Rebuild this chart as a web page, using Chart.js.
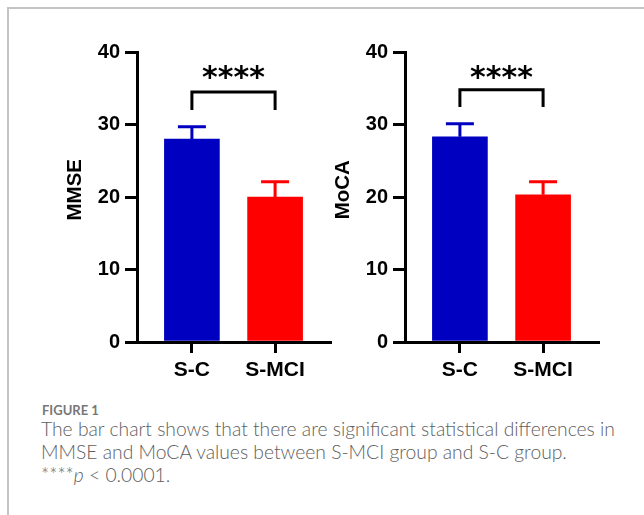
<!DOCTYPE html>
<html>
<head>
<meta charset="utf-8">
<script src="https://cdn.jsdelivr.net/npm/chart.js@4.4.1/dist/chart.umd.min.js"></script>
<style>
  html, body { margin: 0; padding: 0; background: #fff; }
  #page { position: relative; width: 644px; height: 515px; overflow: hidden; }
  #frame { position: absolute; left: 7px; top: 7px; width: 700px; height: 600px;
           border-left: 2px solid #c4c4c4; border-top: 2px solid #c4c4c4; }
  .box { position: absolute; top: 30px; width: 300px; height: 360px; }
  #box1 { left: 40px; }
  #box2 { left: 308px; }
  #figlabel { position: absolute; left: 42px; top: 402px; font-family: Lato, "Open Sans", sans-serif;
              font-weight: 700; font-size: 13px; color: #777; }
  #caption { position: absolute; left: 41px; top: 417px; width: 600px; font-family: Lato, "Open Sans", sans-serif;
             font-weight: 300; font-size: 19.3px; line-height: 23px; color: #606060; }
</style>
</head>
<body>
<div id="page">
  <div id="frame"></div>
  <div class="box" id="box1"><canvas id="chartMMSE"></canvas></div>
  <div class="box" id="box2"><canvas id="chartMoCA"></canvas></div>
  <div id="figlabel">FIGURE 1</div>
  <div id="caption">The bar chart shows that there are significant statistical differences in<br>MMSE and MoCA values between S-MCI group and S-C group.<br>****<i>p</i> &lt; 0.0001.</div>
</div>
<script>
// datos
const categories = ['S-C', 'S-MCI'];
const mmseMean = [28.0, 20.0];
const mmseSD = [1.7, 2.1];
const mocaMean = [28.3, 20.3];
const mocaSD = [1.8, 1.8];
const yTicks = [0, 10, 20, 30, 40];
const barColors = ['#0000c0', '#ff0000'];
const sigLabel = '****';

// barras de error (solo hacia arriba), corchete de significancia y título del eje Y
const sigPlugin = {
  id: 'sigBars',
  afterDatasetsDraw(chart, args, opts) {
    const ctx = chart.ctx;
    const x = chart.scales.x, y = chart.scales.y;
    const meta = chart.getDatasetMeta(0);
    ctx.save();
    ctx.lineWidth = 3;
    ctx.lineCap = 'butt';
    meta.data.forEach((bar, i) => {
      const top = y.getPixelForValue(opts.mean[i] + opts.sd[i]);
      ctx.strokeStyle = barColors[i];
      ctx.beginPath();
      ctx.moveTo(bar.x, bar.y);
      ctx.lineTo(bar.x, top);
      ctx.moveTo(bar.x - 14, top);
      ctx.lineTo(bar.x + 14, top);
      ctx.stroke();
    });
    // corchete
    const x0 = x.getPixelForValue(0), x1 = x.getPixelForValue(1);
    const yb = y.getPixelForValue(opts.bracketY), yd = y.getPixelForValue(opts.bracketDrop);
    ctx.strokeStyle = '#000';
    ctx.lineJoin = 'miter';
    ctx.beginPath();
    ctx.moveTo(x0, yd);
    ctx.lineTo(x0, yb);
    ctx.lineTo(x1, yb);
    ctx.lineTo(x1, yd);
    ctx.stroke();
    ctx.fillStyle = '#000';
    ctx.font = 'bold 30px "DejaVu Sans"';
    ctx.textAlign = 'center';
    ctx.textBaseline = 'middle';
    ctx.fillText(sigLabel, (x0 + x1) / 2, y.getPixelForValue(opts.starY) + 8);
    // título vertical
    ctx.translate(chart.chartArea.left - 63, y.getPixelForValue(opts.titleAt));
    ctx.rotate(-Math.PI / 2);
    ctx.font = 'bold 20.5px Arial, "Liberation Sans"';
    ctx.fillText(opts.title, 0, 1);
    ctx.restore();
  }
};

function makeChart(id, title, mean, sd, bracketY, bracketDrop) {
  const el = document.getElementById(id);
  if (!el) return;
  new Chart(el, {
    type: 'bar',
    data: {
      datasets: [{
        data: categories.map((c, i) => ({ x: i, y: mean[i] })),
        backgroundColor: barColors,
        borderWidth: 0,
        barThickness: 55
      }]
    },
    options: {
      responsive: true,
      maintainAspectRatio: false,
      animation: false,
      layout: { padding: { left: 0, top: 22, right: 10, bottom: 8 } },
      plugins: {
        legend: { display: false },
        tooltip: { enabled: false },
        sigBars: { title: title, titleAt: 21, mean: mean, sd: sd,
                   bracketY: bracketY, bracketDrop: bracketDrop, starY: 37.3 }
      },
      scales: {
        x: {
          type: 'linear',
          offset: false,
          min: -0.66,
          max: 1.66,
          afterBuildTicks: (s) => { s.ticks = categories.map((c, i) => ({ value: i })); },
          afterFit: (s) => { s.height = 40; },
          ticks: {
            callback: (v) => categories[v],
            color: '#000',
            font: { family: 'Arial, "Liberation Sans"', size: 21, weight: 'bold' },
            padding: 5,
            maxRotation: 0,
            autoSkip: false
          },
          grid: { offset: false, drawOnChartArea: false, tickLength: 11, color: '#000', lineWidth: 3 },
          border: { display: true, color: '#000', width: 3 }
        },
        y: {
          min: 0,
          max: 40,
          afterBuildTicks: (s) => { s.ticks = yTicks.map(v => ({ value: v })); },
          afterFit: (s) => { s.width = 97; },
          ticks: {
            color: '#000',
            font: { family: 'Arial, "Liberation Sans"', size: 20, weight: 'bold' },
            padding: 5
          },
          grid: { drawOnChartArea: false, tickLength: 12, color: '#000', lineWidth: 3 },
          border: { display: true, color: '#000', width: 3 }
        }
      }
    },
    plugins: [sigPlugin]
  });
}

makeChart('chartMMSE', 'MMSE', mmseMean, mmseSD, 34.5, 32.0);
makeChart('chartMoCA', 'MoCA', mocaMean, mocaSD, 34.8, 32.4);
</script>
</body>
</html>
